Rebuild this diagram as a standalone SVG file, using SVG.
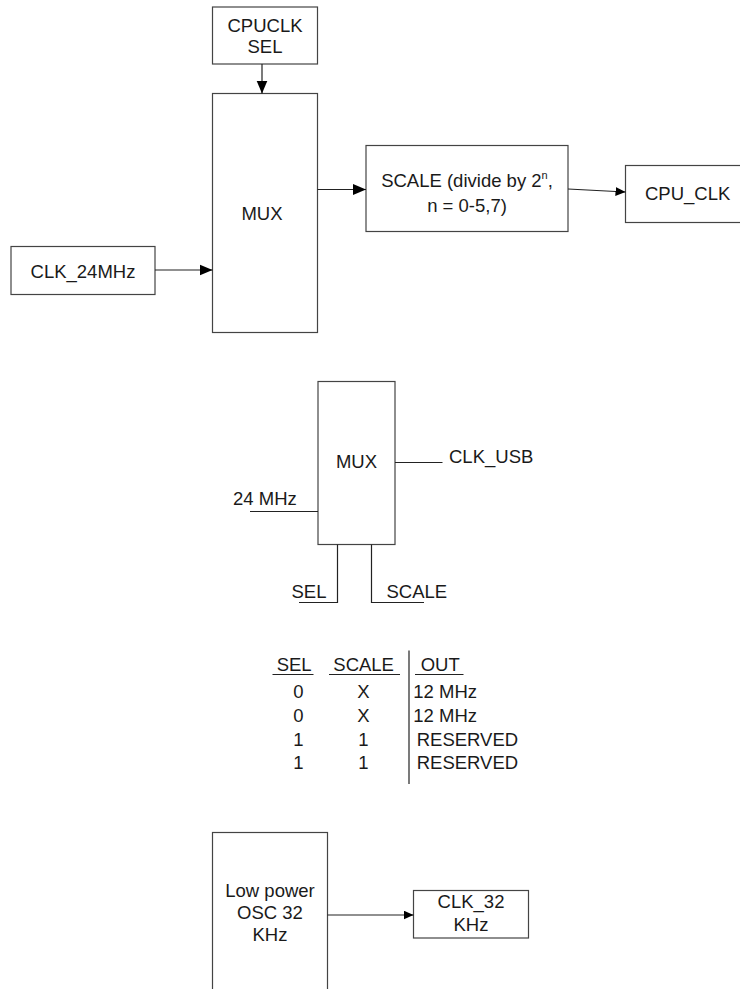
<svg xmlns="http://www.w3.org/2000/svg" width="740" height="989" viewBox="0 0 740 989">
<defs>
<marker id="ah" markerUnits="userSpaceOnUse" markerWidth="14" markerHeight="12" refX="13" refY="6" orient="auto">
<path d="M0,0.5 L13,6 L0,11.5 z" fill="#000"/>
</marker>
<marker id="as" markerUnits="userSpaceOnUse" markerWidth="11" markerHeight="10" refX="10" refY="4.5" orient="auto">
<path d="M0,0 L10,4.5 L0,9 z" fill="#000"/>
</marker>
</defs>
<style>
.b{fill:#fff;stroke:#444;stroke-width:1.2}
.t{font-family:"Liberation Sans",Arial,sans-serif;font-size:18.5px;fill:#1a1a1a}
.m{text-anchor:middle}
.l{fill:none;stroke:#222;stroke-width:1.2}
</style>
<rect width="740" height="989" fill="#fff"/>
<g id="cpuclk-sel"><rect class="b" x="212.5" y="7" width="105" height="57"/><text class="t m" x="265" y="31.5">CPUCLK</text><text class="t m" x="265" y="52.5">SEL</text></g>
<g id="mux1"><rect class="b" x="212.5" y="93.5" width="105" height="239"/><text class="t m" x="262" y="220">MUX</text></g>
<g id="clk24"><rect class="b" x="11" y="246.5" width="144" height="48"/><text class="t m" x="83" y="278.3">CLK_24MHz</text></g>
<g id="scale"><rect class="b" x="366" y="145.5" width="202" height="86"/><text class="t m" x="467" y="186.7">SCALE (divide by 2<tspan font-size="11" dy="-8">n</tspan><tspan dy="8">,</tspan></text><text class="t m" x="467" y="211.7">n = 0-5,7)</text></g>
<g id="cpu-clk"><rect class="b" x="625.5" y="165.5" width="130" height="57"/><text class="t" x="645" y="200">CPU_CLK</text></g>
<g id="mux2"><rect class="b" x="318" y="381.5" width="77" height="163"/><text class="t m" x="356.5" y="468.3">MUX</text></g>
<g id="clk-usb-label"><text class="t" x="449" y="463.3">CLK_USB</text></g>
<g id="in24-label"><text class="t" x="233" y="505">24 MHz</text></g>
<g id="sel-label"><text class="t" x="291.5" y="598.3">SEL</text></g>
<g id="scale-label"><text class="t" x="386.5" y="598.3">SCALE</text></g>
<g id="table">
<text class="t" x="276.7" y="670.7">SEL</text>
<text class="t" x="333.3" y="670.7">SCALE</text>
<text class="t" x="420.7" y="670.7">OUT</text>
<line class="l" x1="272.5" y1="674.5" x2="313.5" y2="674.5"/>
<line class="l" x1="329" y1="674.5" x2="400" y2="674.5"/>
<line class="l" x1="415" y1="674.5" x2="463.5" y2="674.5"/>
<line class="l" x1="409" y1="650.5" x2="409" y2="784"/>
<text class="t m" x="298.3" y="698.3">0</text><text class="t m" x="363.3" y="698.3">X</text><text class="t" x="413.3" y="698.3">12 MHz</text>
<text class="t m" x="298.3" y="721.8">0</text><text class="t m" x="363.3" y="721.8">X</text><text class="t" x="413.3" y="721.8">12 MHz</text>
<text class="t m" x="298.3" y="745.8">1</text><text class="t m" x="363.3" y="745.8">1</text><text class="t" x="416.7" y="745.8">RESERVED</text>
<text class="t m" x="298.3" y="769.3">1</text><text class="t m" x="363.3" y="769.3">1</text><text class="t" x="416.7" y="769.3">RESERVED</text>
</g>
<g id="osc32"><rect class="b" x="212.5" y="832.5" width="115" height="170"/><text class="t m" x="270" y="897">Low power</text><text class="t m" x="270" y="919">OSC 32</text><text class="t m" x="270" y="940.7">KHz</text></g>
<g id="clk32"><rect class="b" x="413.5" y="890.5" width="115" height="47.5"/><text class="t m" x="471" y="908.3">CLK_32</text><text class="t m" x="471" y="930.7">KHz</text></g>
<g id="connectors">
<line class="l" x1="262" y1="64" x2="262" y2="93.5" marker-end="url(#ah)"/>
<line class="l" x1="155" y1="270" x2="212.5" y2="270" marker-end="url(#ah)"/>
<line class="l" x1="317.5" y1="189.5" x2="366" y2="189.5" marker-end="url(#ah)"/>
<line class="l" x1="568" y1="189" x2="625.5" y2="192" marker-end="url(#as)"/>
<line class="l" x1="395" y1="462.5" x2="442.5" y2="462.5"/>
<line class="l" x1="250" y1="511.5" x2="318" y2="511.5"/>
<polyline class="l" points="337.5,544.5 337.5,602.5 299,602.5"/>
<polyline class="l" points="371.5,544.5 371.5,602.5 424,602.5"/>
<line class="l" x1="327.5" y1="915" x2="413.5" y2="915" marker-end="url(#as)"/>
</g>
</svg>
